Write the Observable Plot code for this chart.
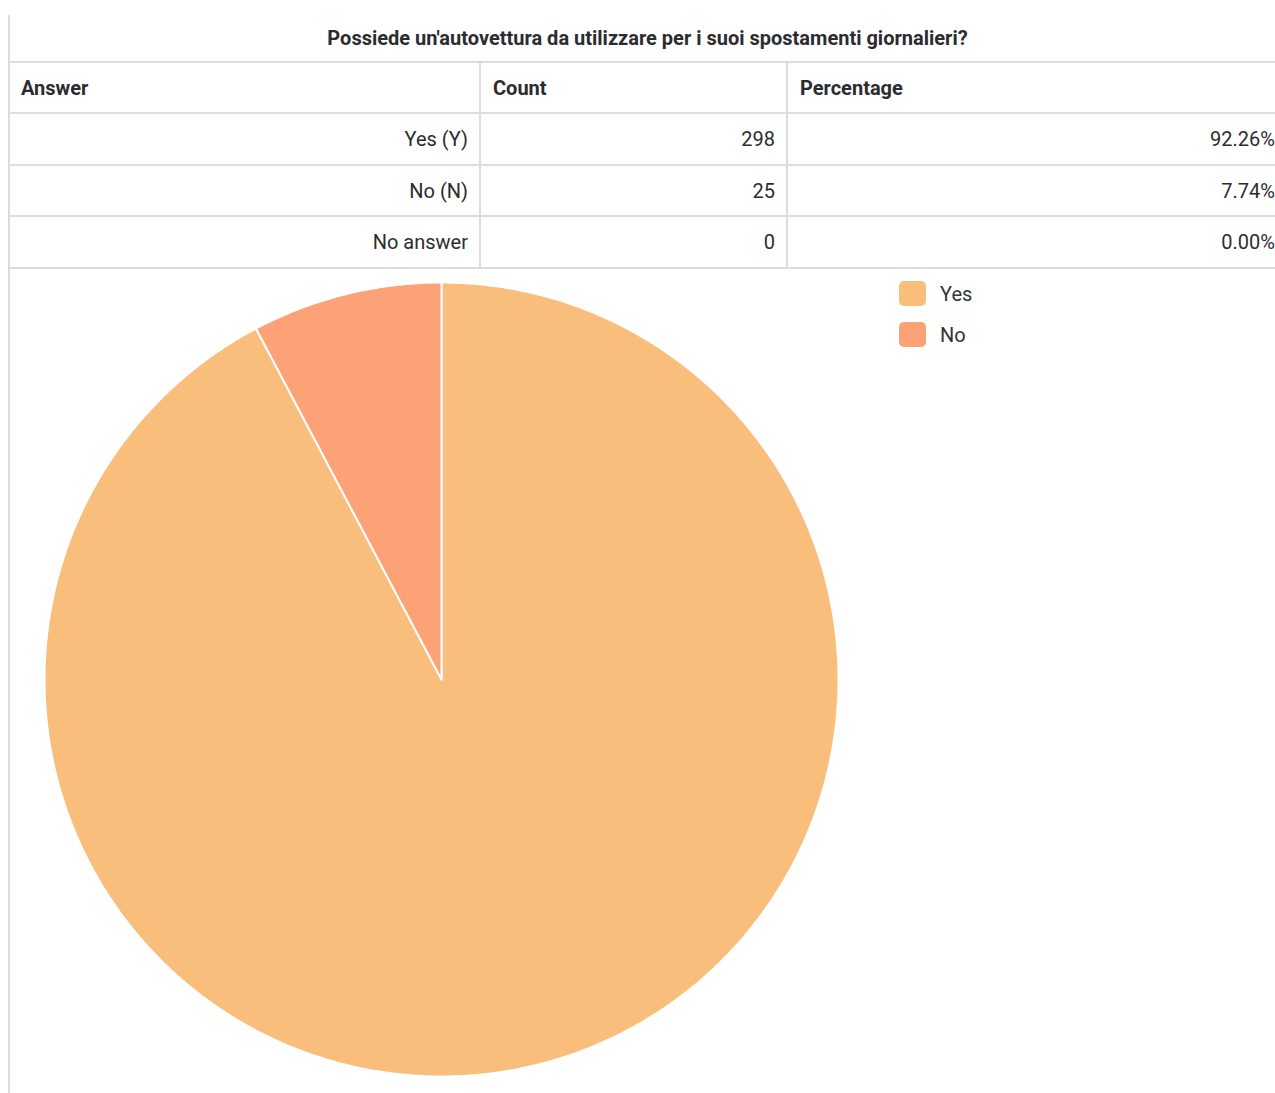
<!DOCTYPE html>
<html>
<head>
<meta charset="utf-8">
<script src="https://cdn.jsdelivr.net/npm/d3@7"></script>
<script src="https://cdn.jsdelivr.net/npm/@observablehq/plot@0.6"></script>
<style>
  html, body { margin: 0; padding: 0; background: #fff; overflow: hidden; }
  body { width: 1275px; height: 1093px; position: relative; font-family: Roboto, "Noto Sans", sans-serif; color: #2b2c30; }
  #frame { position: absolute; left: 8px; top: 15px; width: 2px; height: 1078px; background: #dcdcdc; }
  table { position: absolute; left: 9px; top: 15px; width: 1277px; border-collapse: collapse; table-layout: fixed; }
  td, th { border: 2px solid #dcdcdc; padding: 0 11px; font-size: 20px; }
  tr.title th { border-top: none; border-left: none; border-right: none; height: 46px; font-size: 20px; font-weight: 700; text-align: center; }
  tr.head th { height: 49px; text-align: left; font-weight: 700; padding-left: 12px; }
  tr.body td { height: 49.7px; text-align: right; font-weight: 400; }
  tr.body td:last-child { padding-right: 10px; }
  td:first-child, th:first-child { border-left: none; }
  #chart { position: absolute; left: 41px; top: 279px; }
  #legend { position: absolute; left: 899px; top: 281px; }
  .item { display: flex; align-items: center; height: 25px; margin-bottom: 16px; font-size: 20px; color: #333; }
  .sw { width: 27px; height: 25px; border-radius: 5px; margin-right: 14px; }
</style>
</head>
<body>
<div id="frame"></div>
<table id="tbl">
  <colgroup><col style="width:471px"><col style="width:307px"><col style="width:499px"></colgroup>
</table>
<div id="chart"></div>
<div id="legend"></div>
<script>
const title = "Possiede un'autovettura da utilizzare per i suoi spostamenti giornalieri?";
const headers = ["Answer", "Count", "Percentage"];
const answers = ["Yes (Y)", "No (N)", "No answer"];
const counts = [298, 25, 0];
const percentages = ["92.26%", "7.74%", "0.00%"];
const pieLabels = ["Yes", "No"];
const pieValues = [298, 25];
const pieColors = ["#fabe7c", "#fca276"];

// Table
const tbl = document.getElementById("tbl");
const trT = document.createElement("tr"); trT.className = "title";
const thT = document.createElement("th"); thT.colSpan = 3; thT.textContent = title; trT.appendChild(thT); tbl.appendChild(trT);
const trH = document.createElement("tr"); trH.className = "head";
headers.forEach(h => { const th = document.createElement("th"); th.textContent = h; trH.appendChild(th); });
tbl.appendChild(trH);
answers.forEach((a, i) => {
  const tr = document.createElement("tr"); tr.className = "body";
  [a, counts[i], percentages[i]].forEach(v => { const td = document.createElement("td"); td.textContent = v; tr.appendChild(td); });
  tbl.appendChild(tr);
});

// Pie: Yes runs clockwise from 12 o'clock, No fills the rest
const total = d3.sum(pieValues);
let acc = 0;
const slices = pieLabels.map((label, i) => {
  const a0 = acc / total * 2 * Math.PI;
  acc += pieValues[i];
  const a1 = acc / total * 2 * Math.PI;
  const pts = [{x: 0, y: 0}];
  const n = Math.max(2, Math.ceil((a1 - a0) / (Math.PI / 360)));
  for (let k = 0; k <= n; k++) {
    const a = a0 + (a1 - a0) * k / n;
    pts.push({x: Math.sin(a), y: Math.cos(a)});
  }
  return {label, color: pieColors[i], pts};
});

const chart = Plot.plot({
  width: 800, height: 800,
  margin: 3,
  x: {domain: [-1, 1], axis: null},
  y: {domain: [-1, 1], axis: null},
  marks: slices.map(s => Plot.line(s.pts, {x: "x", y: "y", fill: s.color, stroke: "white", strokeWidth: 2, strokeLinejoin: "round", curve: "linear-closed"}))
});
document.getElementById("chart").appendChild(chart);

// Legend
const leg = document.getElementById("legend");
pieLabels.forEach((l, i) => {
  const it = document.createElement("div"); it.className = "item";
  const sw = document.createElement("div"); sw.className = "sw"; sw.style.background = pieColors[i];
  const tx = document.createElement("span"); tx.textContent = l;
  it.appendChild(sw); it.appendChild(tx); leg.appendChild(it);
});
</script>
</body>
</html>
